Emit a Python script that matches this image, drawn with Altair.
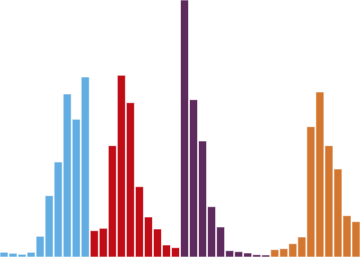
import altair as alt
import pandas as pd

groups = ["A", "B", "C", "D"]
colors = ["#62AEE3", "#C00C16", "#5E2B5E", "#D37630"]
blue_vals = [4.7, 3.7, 2.7, 4.7, 20.7, 61.3, 95, 163, 137.7, 180]
red_vals = [26.3, 28.7, 111.3, 181.7, 154.3, 70.3, 40, 28, 12, 9.3]
purple_vals = [257, 157.3, 116, 50.3, 30, 6.3, 5.3, 4, 2.3, 2]
orange_vals = [7.3, 8.3, 13.3, 20, 130.3, 165, 111.3, 88, 41.3, 35.3]

rows = []
i = 0
for g, vals in zip(groups, [blue_vals, red_vals, purple_vals, orange_vals]):
    for v in vals:
        rows.append({"idx": i, "group": g, "value": v})
        i += 1
df = pd.DataFrame(rows)

chart = alt.Chart(df).mark_bar(stroke="white", strokeOpacity=0.6, strokeWidth=1).encode(
    x=alt.X("idx:O", axis=None,
            scale=alt.Scale(paddingInner=0.11, paddingOuter=0.0)),
    y=alt.Y("value:Q", axis=None, scale=alt.Scale(domain=[0, 257], nice=False, zero=True)),
    color=alt.Color("group:N", legend=None,
                    scale=alt.Scale(domain=groups, range=colors)),
).properties(
    width=360, height=257,
    autosize=alt.AutoSizeParams(type="none"),
    padding=0,
).configure_view(stroke=None)

chart.save("out.html", embed_options={"renderer": "svg", "actions": False})
